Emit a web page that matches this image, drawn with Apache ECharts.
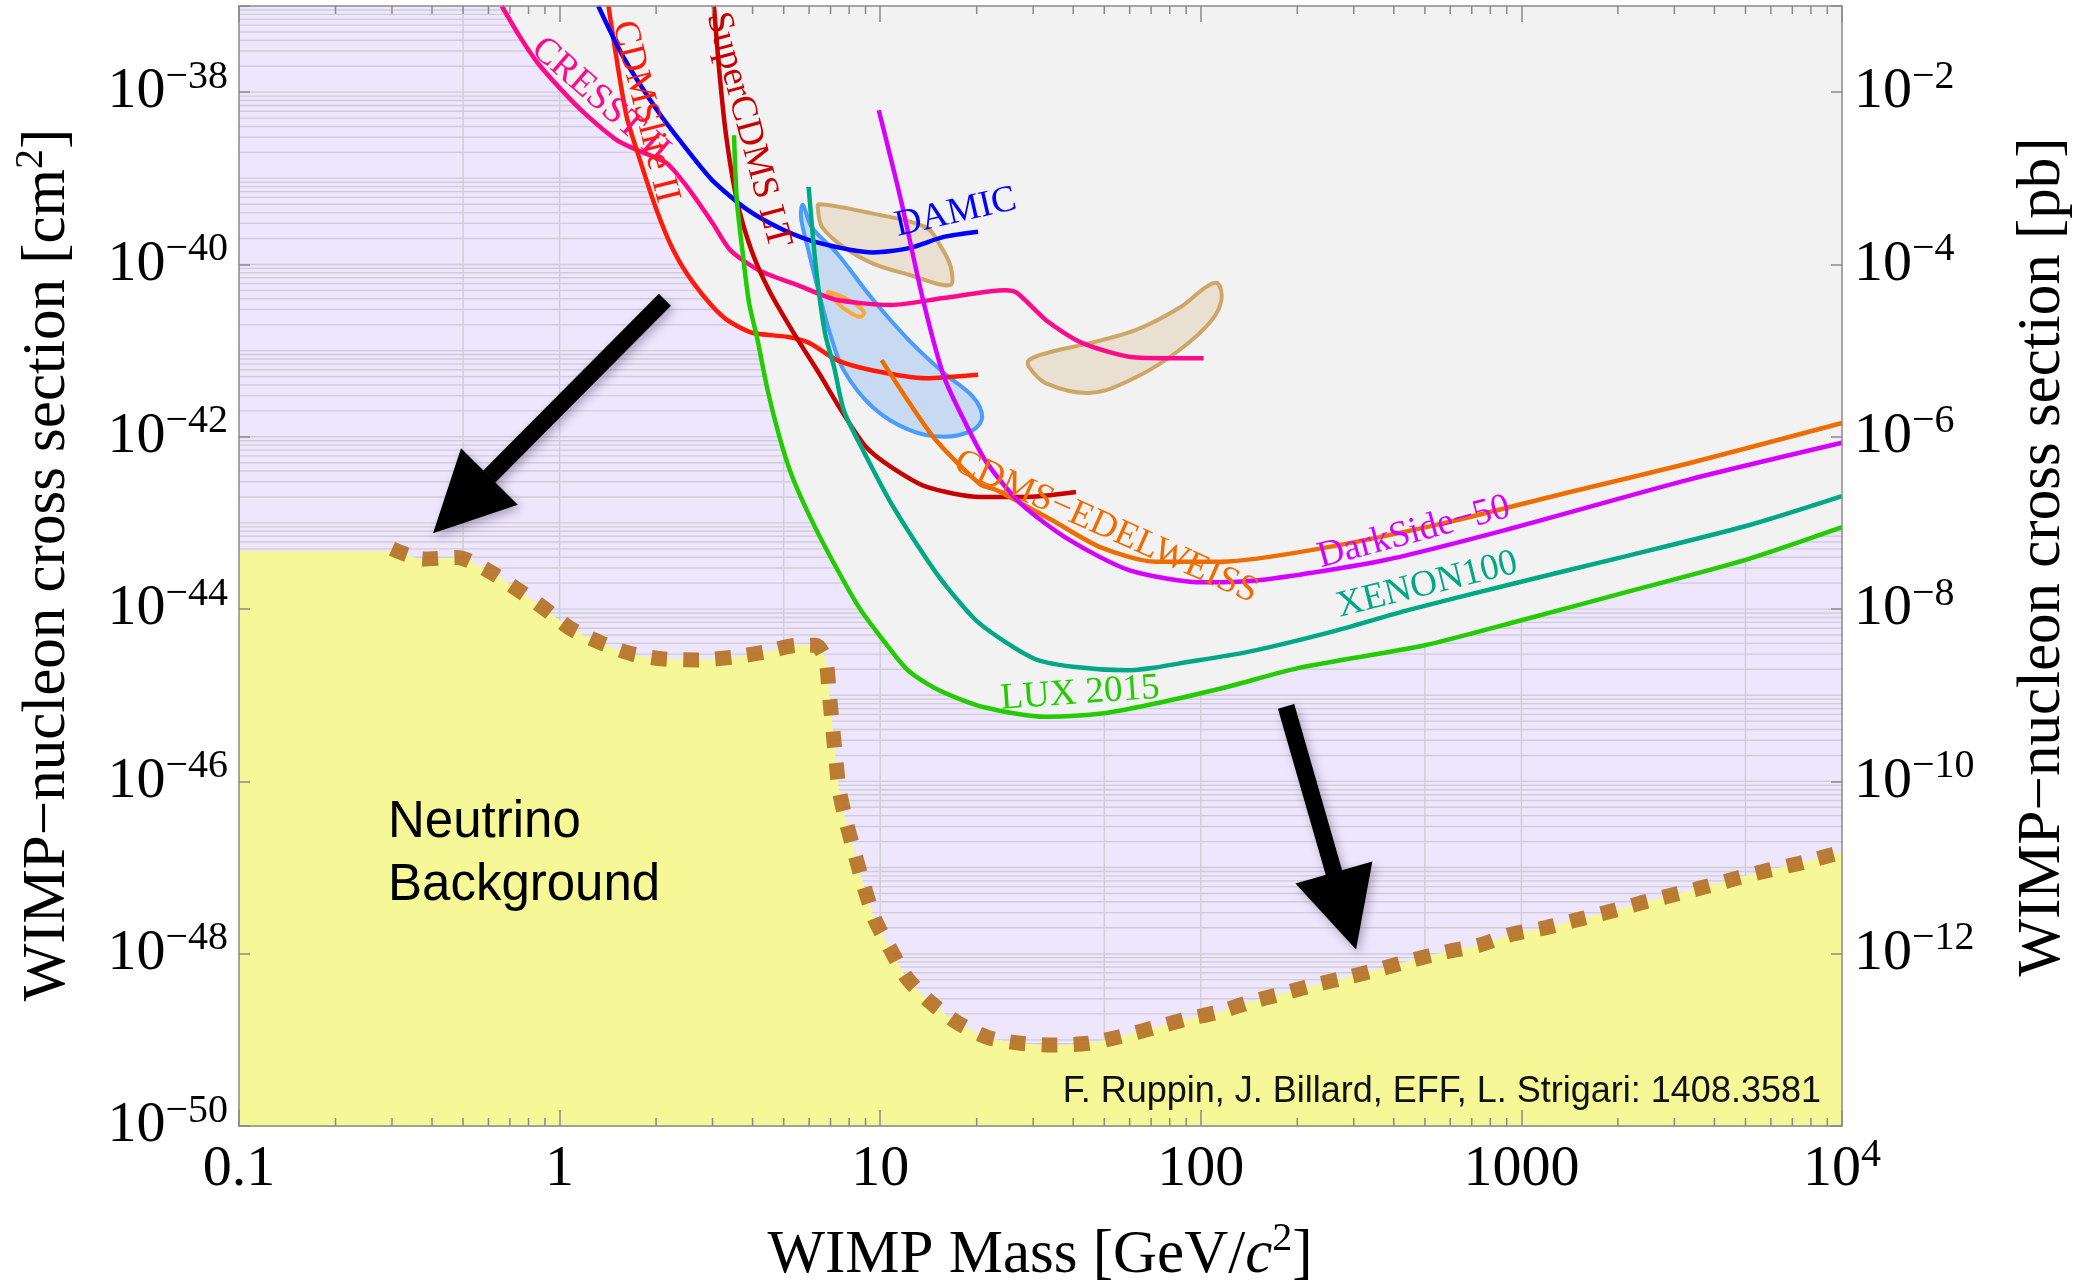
<!DOCTYPE html>
<html>
<head>
<meta charset="utf-8">
<title>WIMP-nucleon cross section limits</title>
<script src="https://cdn.jsdelivr.net/npm/echarts@6/dist/echarts.min.js"></script>
<style>
  html, body { margin: 0; padding: 0; background: #fff; }
  #main { width: 2081px; height: 1287px; }
</style>
</head>
<body>
<div id="main"></div>
<script>
// every curve: [WIMP mass in GeV, log10(cross section / cm^2)]
var cresst2 = [[0.66,-37.0],[0.75,-37.35],[0.85,-37.65],[1.0,-37.95],[1.2,-38.25],[1.5,-38.55],[1.74,-38.67],
  [2.15,-38.82],[2.5,-39.10],[3.0,-39.52],[3.4,-39.83],[4.2,-40.07],[5.7,-40.26],[7.3,-40.41],[10.8,-40.47],
  [15.8,-40.39],[24.5,-40.30],[26.7,-40.33],[33,-40.65],[42.6,-40.91],[62.8,-41.08],[102,-41.09]];
var cdmslite2 = [[1.42,-37.0],[1.52,-37.71],[1.62,-38.29],[1.74,-38.67],[1.99,-39.33],[2.26,-39.83],[2.62,-40.22],
  [3.24,-40.61],[3.96,-40.79],[5.12,-40.84],[6.0,-40.91],[7.33,-41.11],[9.5,-41.23],[13.9,-41.32],[20.2,-41.28]];
var superCdmsLT = [[3.03,-37.0],[3.14,-37.71],[3.30,-38.48],[3.57,-39.25],[3.96,-39.83],[4.50,-40.30],[5.38,-40.80],
  [6.44,-41.26],[7.55,-41.69],[9.04,-42.12],[10.8,-42.35],[13.9,-42.58],[20.5,-42.70],[27.9,-42.70],[40.8,-42.64]];
var damic = [[1.32,-37.0],[1.58,-37.59],[2.04,-38.24],[2.50,-38.67],[2.99,-39.02],[3.87,-39.37],[5.0,-39.60],
  [6.44,-39.75],[9.5,-39.86],[12.3,-39.81],[15.8,-39.68],[20.2,-39.62]];
var lux2015 = [[3.5,-38.5],[3.57,-39.25],[3.72,-39.85],[3.9,-40.45],[4.13,-40.85],[4.45,-41.45],[4.85,-42.0],
  [5.3,-42.45],[6.04,-42.93],[7.08,-43.43],[8.59,-43.98],[10.07,-44.33],[12.2,-44.71],[15.2,-44.94],[21.1,-45.14],
  [32.9,-45.25],[49.9,-45.21],[73.5,-45.09],[119,-44.91],[204,-44.68],[500,-44.42],[1000,-44.13],[2000,-43.83],
  [5000,-43.43],[10000,-43.05]];
var xenon100 = [[5.98,-39.10],[6.3,-40.03],[6.73,-40.80],[7.18,-41.19],[7.71,-41.70],[8.85,-42.16],[10.7,-42.74],
  [13.4,-43.32],[15.8,-43.70],[20.3,-44.16],[30,-44.57],[39.9,-44.67],[58.9,-44.71],[71.5,-44.68],[86,-44.63],
  [139,-44.50],[252,-44.27],[446,-44.01],[955,-43.70],[2046,-43.40],[5093,-43.03],[10000,-42.69]];
var darkSide50 = [[9.9,-38.21],[11.6,-39.25],[13.6,-40.41],[15.8,-41.3],[18.5,-41.85],[21.5,-42.3],[27.5,-42.78],
  [39,-43.20],[60,-43.55],[102,-43.69],[157,-43.66],[376,-43.43],[895,-43.08],[3311,-42.50],[10000,-42.07]];
var cdmsEdelweiss = [[10.1,-41.11],[12.3,-41.6],[15.0,-42.05],[20.5,-42.55],[23.1,-42.62],[34.4,-42.97],[48.5,-43.28],
  [72,-43.45],[116,-43.45],[242,-43.29],[578,-43.00],[1387,-42.65],[3311,-42.31],[10000,-41.84]];

// closed signal regions
var cdmsSiRegion = [[5.74,-39.31],[6.12,-39.57],[7.33,-39.87],[9.5,-40.41],[12.3,-40.88],[15.8,-41.26],[19.5,-41.54],
  [20.8,-41.77],[19.5,-41.92],[15.8,-42.00],[12.3,-41.92],[9.5,-41.66],[7.7,-41.23],[6.97,-40.80],[6.44,-40.33],
  [6.0,-39.87],[5.66,-39.45]];
var damaRegionLow = [[6.44,-39.30],[9.5,-39.41],[13.9,-39.57],[15.5,-39.80],[16.6,-40.03],[16.5,-40.24],[12.3,-40.12],
  [9.5,-39.99],[7.7,-39.80],[6.6,-39.57],[6.4,-39.37]];
var damaRegionHigh = [[29.1,-41.11],[32.9,-41.03],[45.4,-40.91],[62.8,-40.76],[86,-40.50],[104,-40.26],[113,-40.22],
  [116,-40.41],[108,-40.65],[86,-40.99],[62.8,-41.31],[45.4,-41.49],[32.9,-41.38],[29.1,-41.19]];
var cogentRegion = [[6.87,-40.32],[7.94,-40.41],[8.9,-40.55],[8.65,-40.61],[7.7,-40.51],[7.08,-40.38]];

// neutrino background floor
var neutrinoFloor = [[0.30,-43.30],[0.375,-43.42],[0.479,-43.40],[0.596,-43.55],[0.731,-43.76],[0.887,-43.98],
  [1.076,-44.22],[1.34,-44.39],[1.68,-44.52],[2.12,-44.58],[2.70,-44.59],[3.45,-44.56],[4.35,-44.50],[5.55,-44.42],
  [6.3,-44.42],[6.75,-44.58],[6.92,-44.94],[7.08,-45.32],[7.26,-45.72],[7.45,-46.10],[7.83,-46.47],[8.36,-46.86],
  [8.92,-47.23],[9.64,-47.61],[10.7,-47.93],[12.1,-48.28],[14.3,-48.56],[17.4,-48.80],[21.6,-48.97],[27.5,-49.04],
  [34.8,-49.06],[44.4,-49.04],[56.4,-48.96],[71.4,-48.86],[90,-48.76],[113,-48.68],[143,-48.56],[181,-48.46],
  [228,-48.36],[290,-48.27],[370,-48.17],[462,-48.07],[578,-47.98],[740,-47.90],[923,-47.78],[1183,-47.70],
  [1479,-47.61],[1849,-47.52],[2366,-47.41],[2951,-47.32],[3690,-47.23],[4742,-47.12],[5916,-47.03],[7568,-46.94],
  [10000,-46.82]];
var floorLeftEdge = [[0.1,-43.33],[0.3,-43.33]];

// arrows: [tail mass, tail log sigma, tip mass, tip log sigma]
var arrows = [[2.13,-40.41,0.403,-43.12],[184.5,-45.13,305,-47.95]];

// curve labels: [text, mass, log sigma]
var curveLabels = [
  ['CRESST II', 1.34, -38.09],
  ['CDMSlite II', 1.85, -38.23],
  ['SuperCDMS LT', 3.87, -38.44],
  ['DAMIC', 17.2, -39.40],
  ['CDMS\u2212EDELWEISS', 50.6, -43.05],
  ['DarkSide\u221250', 462, -43.11],
  ['XENON100', 508, -43.72],
  ['LUX 2015', 42, -44.98]
];

// axis ticks / grid positions
var massDecades = [0.1, 1, 10, 100, 1000, 10000];
var massGridLines = [0.5, 1, 5, 10, 50, 100, 500, 1000, 5000];
var sigmaDecadeMin = -50, sigmaDecadeMax = -37;

// ---------------------------------------------------------------
var SERIF = '"Liberation Serif", "Times New Roman", serif';
var SANS = '"Liberation Sans", Arial, sans-serif';
var MINUS = '\u2212';

function lg(m) { return Math.log10(m); }
function xy(arr) { return arr.map(function (p) { return [lg(p[0]), p[1]]; }); }

var colors = {
  cresst: '#FF0A8C', cdmslite: '#FF1A0A', supercdms: '#C80000', damic: '#0000FF',
  lux: '#22CC00', xenon: '#00A886', darkside: '#D600FF', edelweiss: '#EE6C00'
};

// minor log gridlines (1..9 x 10^n) for sigma, minor ticks for mass
var sigmaGrid = [];
for (var e = sigmaDecadeMin; e < sigmaDecadeMax; e++) {
  for (var k = 1; k <= 9; k++) sigmaGrid.push([-1, e + lg(k)]);
}
var massMinor = [];
for (var d = 0; d < massDecades.length - 1; d++) {
  for (var j = 2; j <= 9; j++) massMinor.push([lg(j * massDecades[d]), sigmaDecadeMin]);
}

// boundary of the excluded (grey) region: lowest of the limits
var envelope = cresst2.filter(function (p) { return p[0] < 1.74; })
  .concat(cdmslite2.filter(function (p) { return p[0] >= 1.74 && p[0] < 4.1; }))
  .concat(lux2015.filter(function (p) { return p[0] >= 4.1; }));

var supRich = {
  b: { fontSize: 58, fontFamily: SERIF, color: '#000', lineHeight: 70 },
  s: { fontSize: 40, fontFamily: SERIF, color: '#000', lineHeight: 40, verticalAlign: 'top' }
};
var titleRich = {
  n: { fontSize: 61, fontFamily: SERIF, fill: '#000', color: '#000', lineHeight: 74 },
  i: { fontSize: 61, fontFamily: SERIF, fontStyle: 'italic', fill: '#000', color: '#000', lineHeight: 74 },
  p: { fontSize: 40, fontFamily: SERIF, fill: '#000', color: '#000', lineHeight: 40, verticalAlign: 'top' }
};

function massLabel(v) {
  var n = Math.round(v);
  if (Math.abs(v - n) > 1e-6) return '';
  if (n === 4) return '{b|10}{s|4}';
  return '{b|' + ['0.1', '1', '10', '100', '1000'][n + 1] + '}';
}
function sigmaLabel(offset) {
  return function (v) {
    var n = Math.round(v);
    if (Math.abs(v - n) > 1e-6 || n % 2 !== 0) return '';
    var p = n + offset;
    if (offset && p < -12) return '';
    return '{b|10}{s|' + MINUS + Math.abs(p) + '}';
  };
}

var axisGray = { color: '#8a8a8a', width: 1.5 };

function lineSeries(name, data, color) {
  return {
    name: name, type: 'line', data: xy(data), symbol: 'none', smooth: 0.25, z: 5,
    lineStyle: { color: color, width: 4.5 }, silent: true, animation: false
  };
}

var contourStyles = [
  { pts: cdmsSiRegion, fill: 'rgba(165,198,240,0.55)', stroke: '#4A9CFF' },
  { pts: damaRegionLow, fill: '#E9E0D2', stroke: '#CDA767' },
  { pts: damaRegionHigh, fill: '#E9E0D2', stroke: '#CDA767' },
  { pts: cogentRegion, fill: 'rgba(0,0,0,0)', stroke: '#FFA833' }
];

var labelStyle = {
  'CRESST II': { angle: 41, color: colors.cresst },
  'CDMSlite II': { angle: 76, color: colors.cdmslite },
  'SuperCDMS LT': { angle: 75, color: colors.supercdms },
  'DAMIC': { angle: -13, color: colors.damic },
  'CDMS\u2212EDELWEISS': { angle: 24, color: colors.edelweiss },
  'DarkSide\u221250': { angle: -15, color: colors.darkside },
  'XENON100': { angle: -14, color: colors.xenon },
  'LUX 2015': { angle: -4, color: colors.lux }
};

var chart = echarts.init(document.getElementById('main'));
var option = {
  animation: false,
  backgroundColor: '#ffffff',
  grid: {
    left: 239, right: 239, top: 6, bottom: 161,
    show: true, backgroundColor: '#EDE6FC', borderWidth: 0,
    outerBoundsMode: 'none'
  },
  xAxis: [{
    type: 'value', min: -1, max: 4, interval: 1, position: 'bottom', z: 20,
    axisLine: { show: true, onZero: false, lineStyle: axisGray },
    axisTick: { show: true, inside: true, length: 16, lineStyle: axisGray },
    axisLabel: { formatter: massLabel, rich: supRich, margin: 9 },
    splitLine: { show: false }
  }, {
    type: 'value', min: -1, max: 4, interval: 1, position: 'top', z: 20,
    axisLine: { show: true, onZero: false, lineStyle: axisGray },
    axisTick: { show: true, inside: true, length: 16, lineStyle: axisGray },
    axisLabel: { show: false },
    splitLine: { show: false }
  }],
  yAxis: [{
    type: 'value', min: sigmaDecadeMin, max: sigmaDecadeMax, interval: 2, position: 'left', z: 20,
    axisLine: { show: true, onZero: false, lineStyle: axisGray },
    axisTick: { show: true, inside: true, length: 11, lineStyle: axisGray },
    axisLabel: { formatter: sigmaLabel(0), rich: supRich, margin: 11 },
    splitLine: { show: false }
  }, {
    type: 'value', min: sigmaDecadeMin, max: sigmaDecadeMax, interval: 2, position: 'right', z: 20,
    axisLine: { show: true, onZero: false, lineStyle: axisGray },
    axisTick: { show: true, inside: true, length: 11, lineStyle: axisGray },
    axisLabel: { formatter: sigmaLabel(36), rich: supRich, margin: 12 },
    splitLine: { show: false }
  }],
  series: [
    { // horizontal log gridlines
      type: 'custom', z: 1, silent: true, data: sigmaGrid, encode: { x: 0, y: 1 },
      renderItem: function (params, api) {
        var a = api.coord([-1, api.value(1)]), b = api.coord([4, api.value(1)]);
        return { type: 'line', shape: { x1: a[0], y1: a[1], x2: b[0], y2: b[1] },
          style: { stroke: '#D0CCD8', lineWidth: 1.4 } };
      }
    },
    { // vertical gridlines
      type: 'custom', z: 1, silent: true,
      data: massGridLines.map(function (m) { return [lg(m), sigmaDecadeMin]; }), encode: { x: 0, y: 1 },
      renderItem: function (params, api) {
        var a = api.coord([api.value(0), sigmaDecadeMin]), b = api.coord([api.value(0), sigmaDecadeMax]);
        return { type: 'line', shape: { x1: a[0], y1: a[1], x2: b[0], y2: b[1] },
          style: { stroke: '#D0CCD8', lineWidth: 1.4 } };
      }
    },
    { // excluded region
      type: 'line', data: xy(envelope), symbol: 'none', smooth: 0.25, z: 2, silent: true,
      lineStyle: { width: 0 }, areaStyle: { color: '#F2F2F2', opacity: 1, origin: 'end' }
    },
    { // neutrino background region
      type: 'line', data: xy(floorLeftEdge.concat(neutrinoFloor.slice(1))), symbol: 'none', smooth: 0.25, z: 3,
      silent: true, lineStyle: { width: 0 }, areaStyle: { color: '#F6F797', opacity: 1, origin: 'start' }
    },
    { // signal regions
      type: 'custom', z: 4, silent: true,
      data: contourStyles.map(function (c) { return [lg(c.pts[0][0]), c.pts[0][1]]; }), encode: { x: 0, y: 1 },
      renderItem: function (params, api) {
        var c = contourStyles[params.dataIndex];
        var pts = c.pts.map(function (p) { return api.coord([lg(p[0]), p[1]]); });
        return { type: 'polygon', shape: { points: pts, smooth: 0.35 },
          style: { fill: c.fill, stroke: c.stroke, lineWidth: 4 } };
      }
    },
    lineSeries('CRESST II', cresst2, colors.cresst),
    lineSeries('CDMSlite II', cdmslite2, colors.cdmslite),
    lineSeries('SuperCDMS LT', superCdmsLT, colors.supercdms),
    lineSeries('DAMIC', damic, colors.damic),
    lineSeries('XENON100', xenon100, colors.xenon),
    lineSeries('LUX 2015', lux2015, colors.lux),
    lineSeries('CDMS-EDELWEISS', cdmsEdelweiss, colors.edelweiss),
    lineSeries('DarkSide-50', darkSide50, colors.darkside),
    { // neutrino floor boundary
      type: 'line', data: xy(neutrinoFloor), symbol: 'none', smooth: 0.25, z: 6, silent: true,
      lineStyle: { color: 'rgba(180,110,34,0.9)', width: 15, type: [16, 16], cap: 'butt' }
    },
    { // arrows
      type: 'custom', z: 7, silent: true,
      data: arrows.map(function (a) { return [lg(a[0]), a[1], lg(a[2]), a[3]]; }),
      encode: { x: [0, 2], y: [1, 3] },
      renderItem: function (params, api) {
        var p1 = api.coord([api.value(0), api.value(1)]);
        var p2 = api.coord([api.value(2), api.value(3)]);
        var dx = p2[0] - p1[0], dy = p2[1] - p1[1], L = Math.sqrt(dx * dx + dy * dy);
        var ux = dx / L, uy = dy / L, nx = -uy, ny = ux;
        var headL = 80, headW = 80;
        var bx = p2[0] - ux * headL, by = p2[1] - uy * headL;
        var shadow = { shadowBlur: 10, shadowColor: 'rgba(60,40,90,0.35)', shadowOffsetX: 3, shadowOffsetY: 4 };
        return { type: 'group', children: [
          { type: 'line', shape: { x1: p1[0], y1: p1[1], x2: bx + ux * 4, y2: by + uy * 4 },
            style: Object.assign({ stroke: '#000', lineWidth: 17, lineCap: 'butt' }, shadow) },
          { type: 'polygon', shape: { points: [[p2[0], p2[1]], [bx + nx * headW / 2, by + ny * headW / 2],
            [bx - nx * headW / 2, by - ny * headW / 2]] },
            style: Object.assign({ fill: '#000' }, shadow) }
        ] };
      }
    },
    { // curve labels
      type: 'custom', z: 8, silent: true,
      data: curveLabels.map(function (l) { return [lg(l[1]), l[2]]; }), encode: { x: 0, y: 1 },
      renderItem: function (params, api) {
        var l = curveLabels[params.dataIndex], st = labelStyle[l[0]];
        var p = api.coord([api.value(0), api.value(1)]);
        return { type: 'text', x: p[0], y: p[1], rotation: -st.angle * Math.PI / 180,
          style: { text: l[0], fill: st.color, font: '37px ' + SERIF, align: 'center', verticalAlign: 'middle' } };
      }
    },
    { // minor mass ticks, bottom and top
      type: 'custom', z: 9, silent: true, data: massMinor, encode: { x: 0, y: 1 },
      renderItem: function (params, api) {
        var b = api.coord([api.value(0), sigmaDecadeMin]), t = api.coord([api.value(0), sigmaDecadeMax]);
        var st = { stroke: '#8a8a8a', lineWidth: 1.5 };
        return { type: 'group', children: [
          { type: 'line', shape: { x1: b[0], y1: b[1], x2: b[0], y2: b[1] - 8 }, style: st },
          { type: 'line', shape: { x1: t[0], y1: t[1], x2: t[0], y2: t[1] + 8 }, style: st }
        ] };
      }
    }
  ],
  graphic: [
    { type: 'text', z: 100, x: 1040, y: 1256,
      style: { text: '{n|WIMP Mass [GeV/}{i|c}{p|2}{n|]}', rich: titleRich, align: 'center', verticalAlign: 'middle' } },
    { type: 'text', z: 100, x: 48, y: 565, rotation: Math.PI / 2,
      style: { text: '{n|WIMP' + MINUS + 'nucleon cross section [cm}{p|2}{n|]}', rich: titleRich,
        align: 'center', verticalAlign: 'middle' } },
    { type: 'text', z: 100, x: 2043, y: 557, rotation: Math.PI / 2,
      style: { text: '{n|WIMP' + MINUS + 'nucleon cross section [pb]}', rich: titleRich,
        align: 'center', verticalAlign: 'middle' } },
    { type: 'text', z: 100, x: 388, y: 791,
      style: { text: 'Neutrino\nBackground', font: '51px ' + SANS, lineHeight: 63, fill: '#000',
        align: 'left', verticalAlign: 'top' } },
    { type: 'text', z: 100, x: 1821, y: 1092,
      style: { text: 'F. Ruppin, J. Billard, EFF, L. Strigari: 1408.3581', font: '36px ' + SANS, fill: '#111',
        align: 'right', verticalAlign: 'middle' } }
  ]
};
chart.setOption(option);
</script>
</body>
</html>
